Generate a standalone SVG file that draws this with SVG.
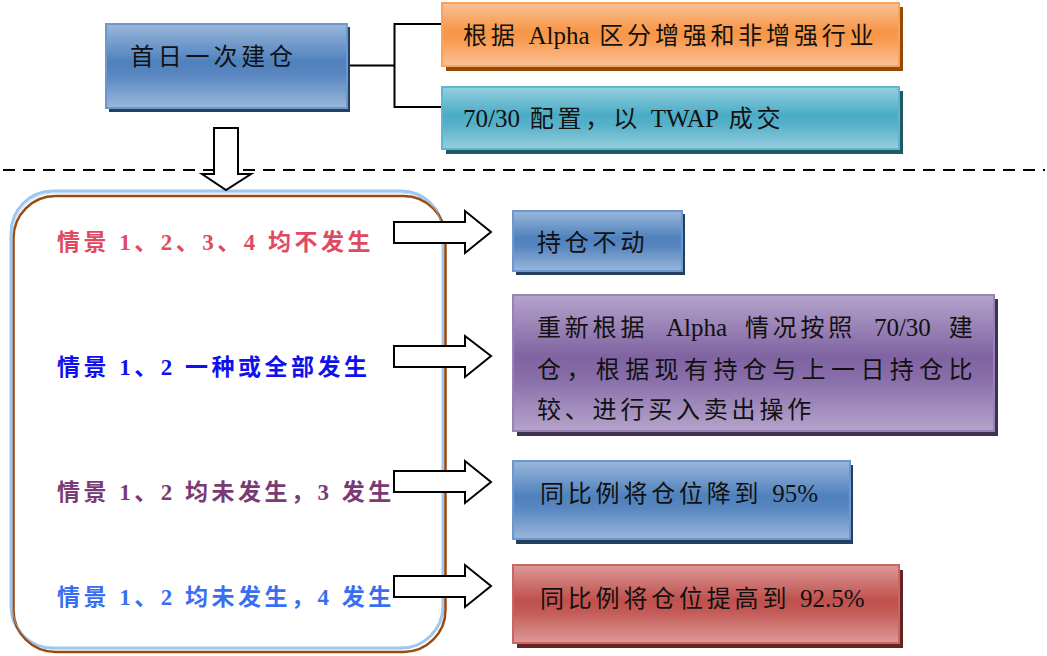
<svg xmlns="http://www.w3.org/2000/svg" width="1047" height="656" viewBox="0 0 1047 656">
<defs>
<linearGradient id="gBlue" x1="0" y1="0" x2="0" y2="1"><stop offset="0" stop-color="#9ab7dc"/><stop offset="0.45" stop-color="#4f81bd"/><stop offset="0.6" stop-color="#5886c0"/><stop offset="1" stop-color="#9ab7dc"/></linearGradient>
<linearGradient id="gOrange" x1="0" y1="0" x2="0" y2="1"><stop offset="0" stop-color="#fbc196"/><stop offset="0.45" stop-color="#f79646"/><stop offset="0.6" stop-color="#f89c52"/><stop offset="1" stop-color="#fbc196"/></linearGradient>
<linearGradient id="gTeal" x1="0" y1="0" x2="0" y2="1"><stop offset="0" stop-color="#95cfdd"/><stop offset="0.45" stop-color="#4bacc6"/><stop offset="0.6" stop-color="#55b0c9"/><stop offset="1" stop-color="#95cfdd"/></linearGradient>
<linearGradient id="gPurple" x1="0" y1="0" x2="0" y2="1"><stop offset="0" stop-color="#b5a4cb"/><stop offset="0.45" stop-color="#8064a2"/><stop offset="0.6" stop-color="#876ca8"/><stop offset="1" stop-color="#b5a4cb"/></linearGradient>
<linearGradient id="gRed" x1="0" y1="0" x2="0" y2="1"><stop offset="0" stop-color="#dc9a98"/><stop offset="0.45" stop-color="#c0504d"/><stop offset="0.6" stop-color="#c45a57"/><stop offset="1" stop-color="#dc9a98"/></linearGradient>
</defs>
<style>
.t{font-family:"Liberation Serif","Noto Sans CJK SC",serif;font-size:24px;letter-spacing:3.8px;fill:#111}
.s{font-family:"Liberation Serif","Noto Sans CJK SC",serif;font-size:23px;font-weight:bold;letter-spacing:3.5px}
.l{font-size:25px;letter-spacing:0}
.arr{fill:#fff;stroke:#000;stroke-width:2;stroke-linejoin:miter}
.ln{fill:none;stroke:#000;stroke-width:2}
</style>
<rect width="1047" height="656" fill="#fff"/>

<g id="container">
<rect x="11" y="191" width="432" height="457" rx="42" fill="#fff" stroke="#9ec8f0" stroke-width="3"/>
<rect x="13.5" y="196" width="432" height="456" rx="42" fill="none" stroke="#9a4a0c" stroke-width="2.5"/>
<rect x="12.5" y="193" width="431" height="456" rx="42" fill="none" stroke="#9ec8f0" stroke-width="1" opacity="0.6"/>
</g>

<line x1="3" y1="170" x2="1045" y2="170" stroke="#000" stroke-width="2" stroke-dasharray="12,8"/>

<g id="connectors">
<polyline class="ln" points="346,65.5 394.5,65.5"/>
<polyline class="ln" points="443,24 394.5,24 394.5,107 443,107"/>
<polygon class="arr" points="214,128 238,128 238,174 251,174 226,190 202,174 214,174"/>
<polygon class="arr" points="394,222 465,222 465,211 491,232 465,253 465,243 394,243"/>
<polygon class="arr" points="394,346 465,346 465,336 491,356 465,377 465,367 394,367"/>
<polygon class="arr" points="394,471 465,471 465,461 491,482 465,503 465,492 394,492"/>
<polygon class="arr" points="394,576 465,576 465,565 491,586 465,607 465,597 394,597"/>
</g>

<g id="n-start">
<rect x="109" y="27" width="241" height="85" fill="#243f60"/>
<rect x="106" y="24" width="241" height="84" fill="url(#gBlue)" stroke="#6c98cf" stroke-width="2"/>
<text class="t" x="130" y="65">首日一次建仓</text>
</g>

<g id="n-alpha">
<rect x="446" y="7" width="457" height="64" fill="#984807"/>
<rect x="442" y="3" width="457" height="63" fill="url(#gOrange)" stroke="#f5a35f" stroke-width="2"/>
<text class="t" x="463" y="44">根据 <tspan class="l">Alpha</tspan> 区分增强和非增强行业</text>
</g>

<g id="n-twap">
<rect x="446" y="91" width="457" height="63" fill="#215967"/>
<rect x="442" y="87" width="457" height="62" fill="url(#gTeal)" stroke="#5fb6cd" stroke-width="2"/>
<text class="t" x="463" y="127"><tspan class="l">70/30</tspan> 配置，以 <tspan class="l">TWAP</tspan> 成交</text>
</g>

<g id="n-s1">
<text class="s" x="57" y="250" fill="#e04a60">情景 1、2、3、4 均不发生</text>
</g>
<g id="n-s2">
<text class="s" x="57" y="375" fill="#1010ee">情景 1、2 一种或全部发生</text>
</g>
<g id="n-s3">
<text class="s" x="57" y="500" fill="#7a3a74">情景 1、2 均未发生，3 发生</text>
</g>
<g id="n-s4">
<text class="s" x="57" y="605" fill="#3a6ef0">情景 1、2 均未发生，4 发生</text>
</g>

<g id="n-hold">
<rect x="516" y="214" width="169" height="61" fill="#243f60"/>
<rect x="513" y="211" width="169" height="60" fill="url(#gBlue)" stroke="#6c98cf" stroke-width="2"/>
<text class="t" x="537" y="251">持仓不动</text>
</g>

<g id="n-rebuild">
<rect x="517" y="299" width="481" height="137" fill="#3f3151"/>
<rect x="513" y="295" width="481" height="136" fill="url(#gPurple)" stroke="#9a80b8" stroke-width="2"/>
<text class="t" x="537" y="336" word-spacing="8">重新根据 <tspan class="l">Alpha</tspan> 情况按照 <tspan class="l">70/30</tspan> 建</text>
<text class="t" x="537" y="378" style="letter-spacing:5.4px">仓，根据现有持仓与上一日持仓比</text>
<text class="t" x="537" y="418">较、进行买入卖出操作</text>
</g>

<g id="n-95">
<rect x="516" y="465" width="337" height="79" fill="#243f60"/>
<rect x="513" y="461" width="337" height="78" fill="url(#gBlue)" stroke="#6c98cf" stroke-width="2"/>
<text class="t" x="540" y="502">同比例将仓位降到 <tspan class="l">95%</tspan></text>
</g>

<g id="n-925">
<rect x="517" y="570" width="386" height="78" fill="#632423"/>
<rect x="513" y="565" width="386" height="78" fill="url(#gRed)" stroke="#cc6663" stroke-width="2"/>
<text class="t" x="540" y="607">同比例将仓位提高到 <tspan class="l">92.5%</tspan></text>
</g>
</svg>
